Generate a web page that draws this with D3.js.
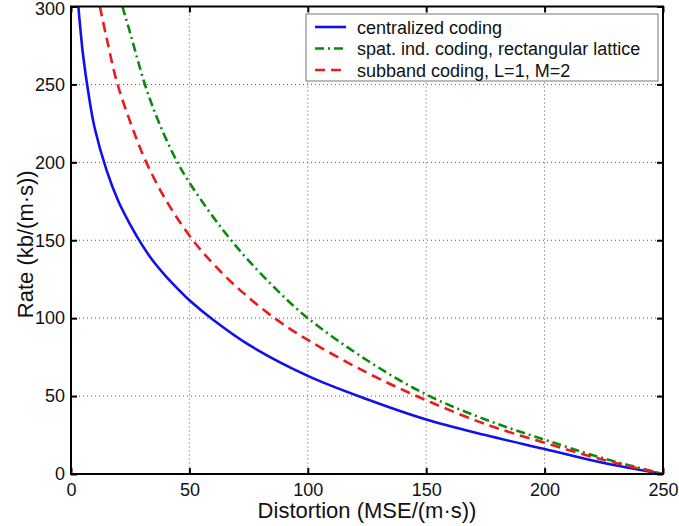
<!DOCTYPE html>
<html lang="en">
<head>
<meta charset="utf-8">
<title>Rate vs distortion</title>
<script src="https://d3js.org/d3.v7.min.js"></script>
<style>
  body { margin: 0; background: #fff; }
  text { font-family: "Liberation Sans", Arial, sans-serif; fill: #111; }
  .grid line { stroke: #555; stroke-width: 1; stroke-dasharray: 1,3; }
  .curve { fill: none; stroke-width: 2.6; }
</style>
</head>
<body>
<script>
// values: [distortion, rate]
var centralized = [[3.1,300],[4,285],[5,270],[7.5,243],[10,222],[15,195],[20,175],[25,160],[30,147],
  [35,136],[40,127],[45,119],[50,111.5],[60,99],[75,83],[100,63],[125,48],[150,35],[175,25],[200,16],[225,7],[250,0]];
var spatial = [[21.7,300],[25,283],[31,251],[37,226],[44.6,201],[50,187],[60,165],[67.1,151],
  [75,137],[87,118],[100,100],[125,73],[150,51],[175,35],[200,22],[225,10],[250,0]];
var subband = [[12.2,300],[15,280],[19.3,252],[25,226],[31.2,202],[40,176],[51,151],[60,135],
  [71.4,118],[86,100],[100,86],[125,65],[143,52],[152,46],[175,32],[200,20],[225,9],[250,0]];

var xTicks = [0, 50, 100, 150, 200, 250];
var yTicks = [0, 50, 100, 150, 200, 250, 300];
var series = [
  {name: 'centralized coding', data: centralized, color: '#1010ee', dash: null},
  {name: 'spat. ind. coding, rectangular lattice', data: spatial, color: '#0a8a0a', dash: '9,4,2,4'},
  {name: 'subband coding, L=1, M=2', data: subband, color: '#ee1a1a', dash: '10,6'}
];

var w = 679, h = 526;
var margin = {top: 6.5, right: 16, bottom: 52, left: 71};
var innerW = w - margin.left - margin.right;
var innerH = h - margin.top - margin.bottom;

var x = d3.scaleLinear().domain([0, 250]).range([0, innerW]);
var y = d3.scaleLinear().domain([0, 300]).range([innerH, 0]);

var svg = d3.select('body').append('svg')
    .attr('width', w)
    .attr('height', h)
  .append('g')
    .attr('transform', 'translate(' + [margin.left, margin.top] + ')');

svg.append('defs').append('clipPath').attr('id', 'clip')
  .append('rect').attr('width', innerW).attr('height', innerH);

// dotted grid
var grid = svg.append('g').attr('class', 'grid');
grid.selectAll('.gx').data(xTicks.slice(1, -1))
  .enter().append('line')
    .attr('x1', function(d){return x(d);}).attr('x2', function(d){return x(d);})
    .attr('y1', 0).attr('y2', innerH);
grid.selectAll('.gy').data(yTicks.slice(1, -1))
  .enter().append('line')
    .attr('y1', function(d){return y(d);}).attr('y2', function(d){return y(d);})
    .attr('x1', 0).attr('x2', innerW);

// curves
var line = d3.line()
  .x(function(d){return x(d[0]);})
  .y(function(d){return y(d[1]);})
  .curve(d3.curveCatmullRom.alpha(0.5));

svg.append('g').attr('clip-path', 'url(#clip)')
  .selectAll('.curve').data(series)
  .enter().append('path')
    .attr('class', 'curve')
    .attr('d', function(d){return line(d.data);})
    .style('stroke', function(d){return d.color;})
    .style('stroke-dasharray', function(d){return d.dash;});

// axes with inward ticks on all four sides
function styleAxis(g) {
  g.select('.domain').remove();
  g.selectAll('.tick line').attr('stroke', '#000').attr('stroke-width', 2);
  g.selectAll('.tick text').style('font-size', '18px').attr('fill', '#111');
}
svg.append('g')
  .attr('transform', 'translate(0,' + innerH + ')')
  .call(d3.axisBottom(x).tickValues(xTicks).tickSizeInner(-6).tickSizeOuter(0).tickPadding(9))
  .call(styleAxis);
svg.append('g')
  .call(d3.axisLeft(y).tickValues(yTicks).tickSizeInner(-6).tickSizeOuter(0).tickPadding(6))
  .call(styleAxis)
  .selectAll('.tick text')
    .filter(function(d){return d === 300;})
    .attr('dy', '0.45em');
svg.append('g')
  .call(d3.axisTop(x).tickValues(xTicks).tickSizeInner(-6).tickSizeOuter(0).tickFormat(''))
  .call(styleAxis);
svg.append('g')
  .attr('transform', 'translate(' + innerW + ',0)')
  .call(d3.axisRight(y).tickValues(yTicks).tickSizeInner(-6).tickSizeOuter(0).tickFormat(''))
  .call(styleAxis);

svg.append('rect')
  .attr('width', innerW).attr('height', innerH)
  .attr('fill', 'none').attr('stroke', '#000').attr('stroke-width', 2);

// axis labels
svg.append('text')
  .attr('x', innerW / 2).attr('y', innerH + 44)
  .attr('text-anchor', 'middle')
  .style('font-size', '22px')
  .text('Distortion (MSE/(m\u00b7s))');
svg.append('text')
  .attr('transform', 'translate(' + (-38) + ',' + (innerH / 2 + 4) + ') rotate(-90)')
  .attr('text-anchor', 'middle')
  .style('font-size', '22px')
  .text('Rate (kb/(m\u00b7s))');

// legend
var legend = svg.append('g').attr('transform', 'translate(' + (306 - margin.left) + ',' + (14 - margin.top) + ')');
legend.append('rect')
  .attr('width', 352).attr('height', 67)
  .attr('fill', '#fff').attr('stroke', '#777').attr('stroke-width', 1);
var item = legend.selectAll('.item').data(series)
  .enter().append('g')
    .attr('transform', function(d, i){return 'translate(0,' + (13 + i * 21.5) + ')';});
item.append('line')
  .attr('x1', 9).attr('x2', 40)
  .attr('stroke', function(d){return d.color;})
  .attr('stroke-width', 2.6)
  .style('stroke-dasharray', function(d){return d.dash;});
item.append('text')
  .attr('x', 51).attr('y', 6.5)
  .style('font-size', '18px')
  .text(function(d){return d.name;});
</script>
</body>
</html>
